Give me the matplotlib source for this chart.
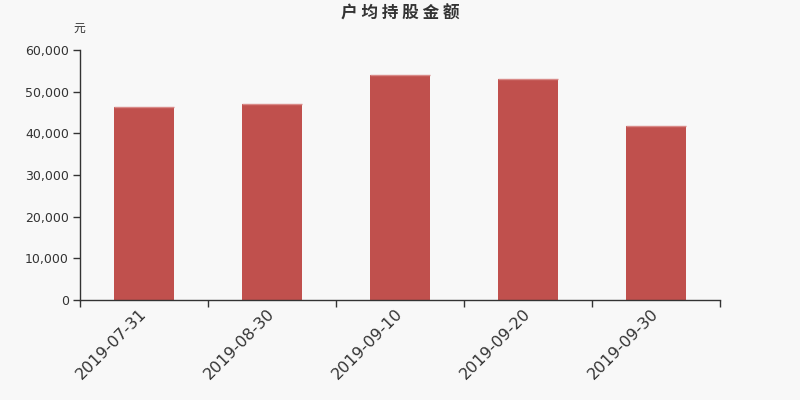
import matplotlib
matplotlib.use("Agg")
import matplotlib.pyplot as plt
from matplotlib.ticker import FuncFormatter, FixedLocator
import numpy as np

categories = ["2019-07-31", "2019-08-30", "2019-09-10", "2019-09-20", "2019-09-30"]
values = [46300, 47000, 54000, 53000, 41700]
y_ticks = [0, 10000, 20000, 30000, 40000, 50000, 60000]

plt.rcParams['font.family'] = ['DejaVu Sans', 'Noto Sans CJK SC']

bg = '#f8f8f8'
txt = '#333333'
bar_color = '#c0504d'

fig = plt.figure(figsize=(8, 4), dpi=100, facecolor=bg)
ax = fig.add_axes([0.1, 0.25, 0.8, 0.625], facecolor=bg)

x = np.arange(len(categories))
bw = 0.47
ax.bar(x, values, width=bw, color=bar_color, zorder=2)
ax.hlines(values, x - bw / 2, x + bw / 2, color='#d98a88', lw=1, zorder=3)

ax.set_xlim(-0.5, len(categories) - 0.5)
ax.set_ylim(0, 60000)
ax.set_yticks(y_ticks)
ax.yaxis.set_major_formatter(FuncFormatter(lambda v, p: f"{int(v):,}"))

ax.set_xticks(x)
ax.set_xticklabels([])
ax.xaxis.set_minor_locator(FixedLocator(np.arange(-0.5, len(categories), 1.0)))
ax.tick_params(axis='x', which='major', length=0)
ax.tick_params(axis='x', which='minor', length=5, width=1, color=txt, direction='out')
ax.tick_params(axis='y', length=5, width=1, color=txt, direction='out',
               labelsize=9, labelcolor=txt, pad=3)

for xi, lab in zip(x, categories):
    ax.annotate(lab, xy=(xi, 0), xycoords=('data', 'axes fraction'),
                xytext=(-5, -6), textcoords='offset pixels',
                rotation=45, ha='right', va='top', rotation_mode='anchor',
                fontsize=11.5, color=txt)

for s in ['top', 'right']:
    ax.spines[s].set_visible(False)
for s in ['left', 'bottom']:
    ax.spines[s].set_color(txt)
    ax.spines[s].set_linewidth(1)

fig.text(0.5, 0.965, "户 均 持 股 金 额", ha='center', va='center', fontsize=12,
         fontweight='bold', color=txt, family=['Noto Sans CJK SC', 'DejaVu Sans'])
fig.text(0.0995, 0.928, "元", ha='center', va='center', fontsize=8.5,
         color=txt, family=['Noto Sans CJK SC', 'DejaVu Sans'])

fig.savefig("out.png", dpi=100, facecolor=bg)
